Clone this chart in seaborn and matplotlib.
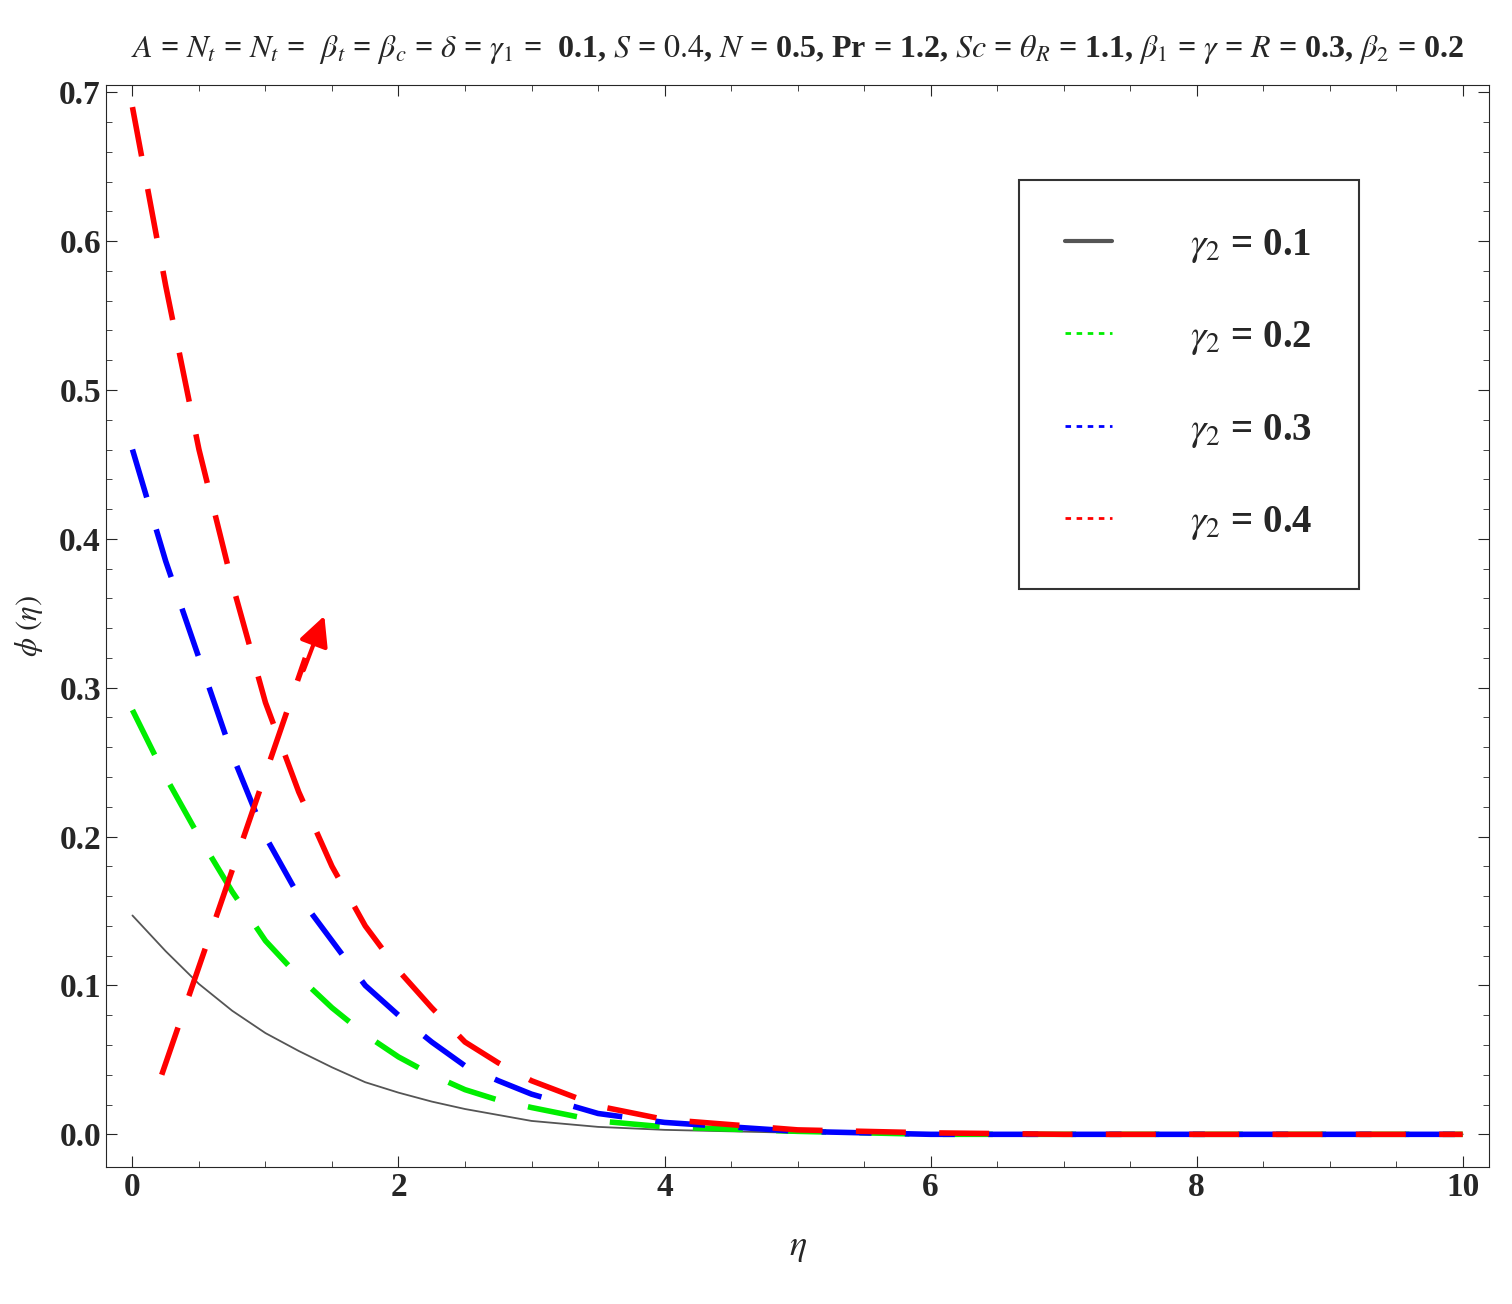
import matplotlib
matplotlib.use("Agg")
import matplotlib.pyplot as plt
import seaborn as sns
import pandas as pd

eta = [0, 0.25, 0.5, 0.75, 1, 1.25, 1.5, 1.75, 2, 2.25, 2.5, 2.75, 3, 3.5, 4, 5, 6, 7, 8, 9, 10]
phi_01 = [0.147, 0.123, 0.101, 0.083, 0.068, 0.056, 0.045, 0.035, 0.028, 0.022, 0.017, 0.013, 0.009, 0.005, 0.003, 0.001, 0, 0, 0, 0, 0]
phi_02 = [0.285, 0.240, 0.200, 0.163, 0.130, 0.106, 0.085, 0.067, 0.052, 0.040, 0.030, 0.023, 0.018, 0.009, 0.005, 0.002, 0, 0, 0, 0, 0]
phi_03 = [0.460, 0.385, 0.320, 0.255, 0.200, 0.160, 0.130, 0.100, 0.080, 0.062, 0.046, 0.036, 0.027, 0.014, 0.008, 0.002, 0, 0, 0, 0, 0]
phi_04 = [0.690, 0.570, 0.460, 0.370, 0.290, 0.230, 0.180, 0.140, 0.110, 0.085, 0.062, 0.048, 0.036, 0.019, 0.010, 0.003, 0.001, 0, 0, 0, 0]
labels = [r"$\gamma_2$ = 0.1", r"$\gamma_2$ = 0.2", r"$\gamma_2$ = 0.3", r"$\gamma_2$ = 0.4"]
colors = ["#555555", "#00ee00", "#0000ff", "#ff0000"]

sns.set_style("ticks")
plt.rcParams["font.family"] = ["Liberation Serif", "DejaVu Serif"]
plt.rcParams["mathtext.fontset"] = "stix"

fig, ax = plt.subplots(figsize=(15.12, 13.04), dpi=100)
series = [phi_01, phi_02, phi_03, phi_04]
for i, (ys, lab, c) in enumerate(zip(series, labels, colors)):
    df = pd.DataFrame({"eta": eta, "phi": ys})
    if i == 0:
        sns.lineplot(data=df, x="eta", y="phi", ax=ax, color=c, lw=1.3, label=lab)
    else:
        sns.lineplot(data=df, x="eta", y="phi", ax=ax, color=c, lw=4, dashes=False, label=lab)
        ax.lines[-1].set_dashes([9, 6])

# arrow showing increasing gamma_2
ax.plot([0.22, 1.3], [0.04, 0.32], color="red", lw=4, dashes=[9, 6])
ax.annotate("", xy=(1.45, 0.35), xytext=(1.28, 0.31),
            arrowprops=dict(arrowstyle="-|>", color="red", lw=3, mutation_scale=45))

ax.set_xlim(-0.2, 10.2)
ax.set_ylim(-0.022, 0.705)
ax.set_xticks([0, 2, 4, 6, 8, 10])
ax.set_yticks([0.0, 0.1, 0.2, 0.3, 0.4, 0.5, 0.6, 0.7])
ax.set_yticklabels(["0.0", "0.1", "0.2", "0.3", "0.4", "0.5", "0.6", "0.7"])
ax.set_xticks([x / 2 for x in range(0, 21)], minor=True)
ax.set_yticks([y / 100 for y in range(0, 71, 2)], minor=True)
ax.tick_params(which="both", direction="in", top=True, right=True)
ax.tick_params(which="major", length=8, labelsize=24)
ax.tick_params(which="minor", length=4)
for t in ax.get_xticklabels() + ax.get_yticklabels():
    t.set_fontweight("bold")
ax.set_xlabel(r"$\eta$", fontsize=26, labelpad=20)
ax.set_ylabel(r"$\phi\ (\eta)$", fontsize=22, labelpad=10)
ax.set_title(r"$A$ = $N_t$ = $N_t$ =  $\beta_t$ = $\beta_c$ = $\delta$ = $\gamma_1$ =  0.1, $S$ = $0.4$, $N$ = 0.5, Pr = 1.2, "
             r"$Sc$ = $\theta_R$ = 1.1, $\beta_1$ = $\gamma$ = $R$ = 0.3, $\beta_2$ = 0.2",
             fontsize=23, fontweight="bold", pad=20)

handles, labs = ax.get_legend_handles_labels()
leg = ax.legend(handles, labs, loc="upper right", bbox_to_anchor=(0.92, 0.93), fontsize=28,
                frameon=True, fancybox=False, edgecolor="black", borderpad=1.2,
                labelspacing=1.4, handlelength=1.2, handletextpad=2.0)
leg.get_frame().set_linewidth(1.5)
for h in leg.get_lines()[1:]:
    h.set_linewidth(2)
    h.set_dashes([2, 2])
leg.get_lines()[0].set_linewidth(3)
for t in leg.get_texts():
    t.set_fontweight("bold")

plt.subplots_adjust(left=0.07, right=0.985, top=0.935, bottom=0.105)
plt.savefig("out.png", dpi=100)
